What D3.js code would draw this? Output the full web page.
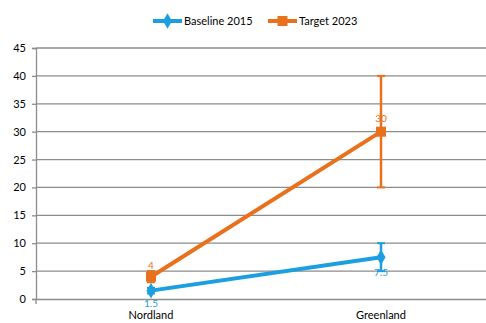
<!DOCTYPE html>
<html><head><meta charset="utf-8">
<script src="https://cdn.jsdelivr.net/npm/d3@7"></script>
<style>body{margin:0;background:#fff}svg{display:block;font-family:Lato,"Liberation Sans",sans-serif}</style>
</head><body><svg id="c" width="486" height="323"></svg>
<script>
const categories = ["Nordland", "Greenland"];
const seriesNames = ["Baseline 2015", "Target 2023"];
const baselineValues = [1.5, 7.5];
const targetValues = [4, 30];
const baselineErrLow = [1, 5];
const baselineErrHigh = [2, 10];
const targetErrLow = [3, 20];
const targetErrHigh = [5, 40];
const yTicks = [0, 5, 10, 15, 20, 25, 30, 35, 40, 45];
const colors = ["#1b9fe0", "#e9711c"];

const svg = d3.select("#c");
const x = d3.scaleBand().domain(categories).range([36, 496]);
const y = d3.scaleLinear().domain([0, 45]).range([299, 48]);

// gridlines
svg.append("g").selectAll("line").data(yTicks.filter(d => d > 0)).join("line")
  .attr("x1", 36).attr("x2", 486).attr("y1", d => y(d)).attr("y2", d => y(d))
  .attr("stroke", "#8c8c8c").attr("stroke-width", 1.3);

// y axis
const yAxis = d3.axisLeft(y).tickValues(yTicks).tickSize(4).tickPadding(6);
const gy = svg.append("g").attr("transform", "translate(36,0)").call(yAxis);
gy.select(".domain").attr("stroke", "#8c8c8c").attr("stroke-width", 1.3);
gy.selectAll(".tick line").attr("stroke", "#8c8c8c").attr("stroke-width", 1.3);
gy.selectAll("text").attr("font-size", 11).attr("fill", "#000").attr("font-family", "Lato");

// x axis
const xAxis = d3.axisBottom(x).tickSize(0).tickPadding(12);
const gx = svg.append("g").attr("transform", "translate(0,299)").call(xAxis);
gx.select(".domain").attr("stroke", "#8c8c8c").attr("stroke-width", 1.3);
gx.selectAll("text").attr("font-size", 11).attr("fill", "#000").attr("font-family", "Lato");
svg.append("line").attr("x1", 36).attr("x2", 36).attr("y1", 299).attr("y2", 304)
  .attr("stroke", "#8c8c8c").attr("stroke-width", 1.3);

const cx = c => x(c) + x.bandwidth() / 2;
const series = [
  {name: seriesNames[0], vals: baselineValues, lo: baselineErrLow, hi: baselineErrHigh, color: colors[0], shape: d3.symbolDiamond, size: 70, labelDy: [13, 15]},
  {name: seriesNames[1], vals: targetValues, lo: targetErrLow, hi: targetErrHigh, color: colors[1], shape: d3.symbolSquare, size: 100, labelDy: [-11, -13]}
];

series.forEach(s => {
  const g = svg.append("g");
  categories.forEach((c, i) => {
    g.append("line").attr("x1", cx(c)).attr("x2", cx(c)).attr("y1", y(s.lo[i])).attr("y2", y(s.hi[i]))
      .attr("stroke", s.color).attr("stroke-width", 2.5);
    [s.lo[i], s.hi[i]].forEach(v => g.append("line").attr("x1", cx(c) - 4).attr("x2", cx(c) + 4)
      .attr("y1", y(v)).attr("y2", y(v)).attr("stroke", s.color).attr("stroke-width", 2));
  });
  const line = d3.line().x((d, i) => cx(categories[i])).y(d => y(d));
  g.append("path").attr("d", line(s.vals)).attr("fill", "none").attr("stroke", s.color).attr("stroke-width", 4);
  g.selectAll("path.m").data(s.vals).join("path").attr("class", "m")
    .attr("d", d3.symbol().type(s.shape).size(s.size))
    .attr("transform", (d, i) => `translate(${cx(categories[i])},${y(d)})`)
    .attr("fill", s.color);
  g.selectAll("text").data(s.vals).join("text")
    .attr("x", (d, i) => cx(categories[i])).attr("y", (d, i) => y(d) + s.labelDy[i])
    .attr("dy", "0.35em").attr("text-anchor", "middle").attr("font-size", 10)
    .attr("fill", s.color).text(d => d);
});

// legend
const legend = [{x: 153, tx: 184}, {x: 268, tx: 299}];
series.forEach((s, i) => {
  const L = legend[i];
  const g = svg.append("g");
  g.append("line").attr("x1", L.x).attr("x2", L.tx - 2).attr("y1", 21).attr("y2", 21)
    .attr("stroke", s.color).attr("stroke-width", 4);
  g.append("path").attr("d", d3.symbol().type(s.shape).size(s.size)())
    .attr("transform", `translate(${(L.x + L.tx - 2) / 2},21)`).attr("fill", s.color);
  g.append("text").attr("x", L.tx).attr("y", 21).attr("dy", "0.35em")
    .attr("font-size", 11).attr("fill", "#000").text(s.name);
});
</script></body></html>
